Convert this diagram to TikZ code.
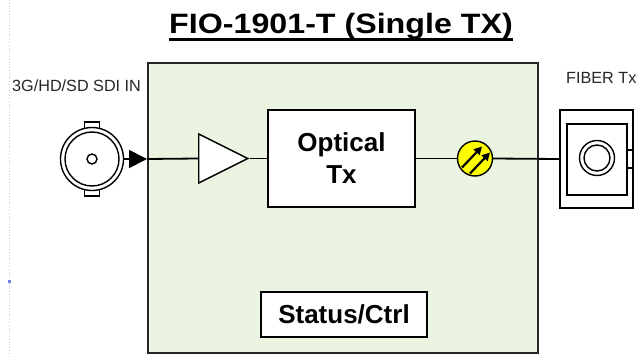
\documentclass[tikz,border=0pt]{standalone}
\usepackage{fontspec}
\setmainfont{Liberation Sans}
\newfontfamily\titlefont[FakeStretch=1.15]{Liberation Sans}
\usetikzlibrary{arrows.meta,shapes.geometric}
\definecolor{panel}{HTML}{EBF4E1}
\definecolor{ledyellow}{HTML}{FFFF00}
\definecolor{guide}{HTML}{C8D0DC}
\begin{document}
\begin{tikzpicture}[x=1pt,y=-1pt,
  wire/.style={line width=1.8pt, draw=black},
  blk/.style={draw=black, line width=1.6pt, fill=white, inner sep=0pt},
  lbl/.style={inner sep=0pt, font=\fontsize{16.2}{18}\selectfont, text=black!85},
  bigtxt/.style={font=\fontsize{26}{32}\selectfont\bfseries}
]
\useasboundingbox (0,0) rectangle (637,356);
% faint guide
\draw[guide, dotted, line width=0.8pt] (9,0) -- (9,356);
\fill[guide!60!blue] (7.5,279.5) rectangle (10.5,282.5);
% title
\node[anchor=base, inner sep=0pt, font=\titlefont\fontsize{28}{34}\selectfont\bfseries] (title) at (341,33) {FIO-1901-T (Single TX)};
\draw[line width=2.4pt] ([yshift=-6.5pt]title.base west) -- ([yshift=-6.5pt]title.base east);
% main panel
\node[draw=black!85, line width=2pt, fill=panel, minimum width=390pt, minimum height=290pt, anchor=north west, inner sep=0pt] (panel) at (147,62) {};
% labels
\node[lbl, anchor=base west] (inlbl) at (12,91) {3G/HD/SD SDI IN};
\node[lbl, anchor=base west] (fiblbl) at (566,83) {FIBER Tx};
% BNC connector
\draw[blk, line width=1.4pt] (84.5,122) rectangle (99.5,130);
\draw[blk, line width=1.4pt] (84.5,188) rectangle (99.5,196);
\node[circle, blk, line width=1.4pt, minimum size=63pt] (bnc) at (92,159) {};
\node[circle, draw=black, line width=1.4pt, minimum size=54pt, inner sep=0pt] (bncin) at (92,159) {};
\node[circle, draw=black, line width=1.4pt, minimum size=10pt, inner sep=0pt] (bncpin) at (92,159) {};
% amplifier
\node[isosceles triangle, isosceles triangle stretches, blk, line width=1.4pt, minimum width=49pt, minimum height=49pt, anchor=west] (amp) at (198,158.5) {};
% optical tx
\node[blk, bigtxt, minimum width=147pt, minimum height=97pt, align=center] (otx) at (341.5,158.5) {Optical\\Tx};
% led
\node[circle, draw=black, fill=ledyellow, line width=1.4pt, minimum size=35pt, inner sep=0pt] (led) at (475,158.5) {};
\draw[line width=2.2pt, -{Triangle[length=8pt,width=8pt]}] (led.center) ++(-13,9) -- ++(20,-21);
\draw[line width=2.2pt, -{Triangle[length=8pt,width=8pt]}] (led.center) ++(-5,15) -- ++(20,-21);
% fiber connector
\node[blk, line width=1.4pt, minimum width=73pt, minimum height=98pt] (fib) at (596.5,159) {};
\node[blk, line width=1.4pt, minimum width=60pt, minimum height=71pt] (fibin) at (597,159.5) {};
\draw[black, line width=1.4pt] (627,150) rectangle (633,168);
\node[circle, draw=black, line width=1.4pt, minimum size=35pt, inner sep=0pt] (ferr) at (597,158) {};
\node[circle, draw=black, line width=1.4pt, minimum size=26pt, inner sep=0pt] (ferrin) at (597,158) {};
% status
\node[blk, bigtxt, minimum width=166pt, minimum height=45pt] (stat) at (344,314.5) {Status/Ctrl};
% wires
\draw[wire, -{Triangle[length=18pt,width=18pt]}] (bnc.east) -- (bnc.east -| panel.west);
\draw[wire] (bnc.east -| panel.west) -- (amp.west);
\draw[wire] (amp.east) -- (otx.west);
\draw[wire] (otx.east) -- (led.west);
\draw[wire] (led.east) -- (fib.west);
\end{tikzpicture}
\end{document}
